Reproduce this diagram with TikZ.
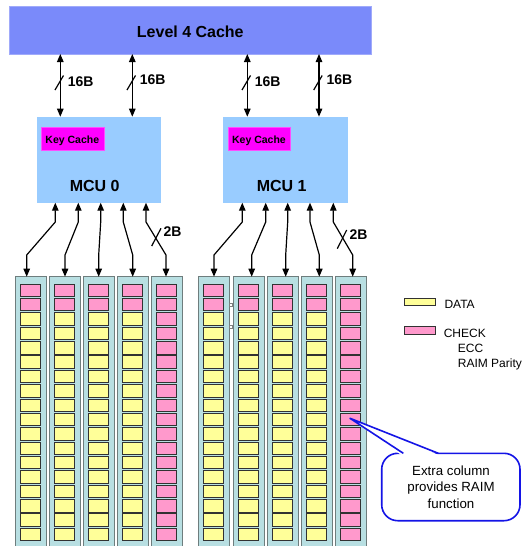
\documentclass[tikz,border=0pt]{standalone}
\usepackage{fontspec}
\setmainfont{Liberation Sans}
\usetikzlibrary{arrows.meta}
\definecolor{lfour}{RGB}{122,138,250}
\definecolor{lfourb}{RGB}{160,170,250}
\definecolor{mcu}{RGB}{153,204,255}
\definecolor{keyc}{RGB}{255,0,255}
\definecolor{colf}{RGB}{184,223,226}
\definecolor{colb}{RGB}{110,125,125}
\definecolor{chk}{RGB}{255,153,204}
\definecolor{dat}{RGB}{255,255,153}
\definecolor{cellb}{RGB}{50,50,50}
\definecolor{callb}{RGB}{20,20,230}
\tikzset{
  box/.style={inner sep=0pt, outer sep=0pt, anchor=north west},
  colbox/.style={box, draw=colb, fill=colf, line width=1.2pt, minimum width=31pt, minimum height=280pt},
  cellbox/.style={draw=cellb, line width=0.9pt},
  biarr/.style={line width=1.2pt, {Triangle[length=8pt,width=6.5pt]}-{Triangle[length=8pt,width=6.5pt]}},
  slash/.style={line width=1.2pt},
  bw/.style={font=\fontsize{14}{16}\bfseries\selectfont, inner sep=0pt, anchor=base west},
  leg/.style={font=\fontsize{12}{14}\selectfont, inner sep=0pt, anchor=base west},
}
\begin{document}
\begin{tikzpicture}[x=1pt,y=-1pt]
\clip (0,0) rectangle (523,546);
\fill[white] (0,0) rectangle (523,546);

% Level 4 cache
\node[box, draw=lfourb, fill=lfour, minimum width=361.7pt, minimum height=48pt] (l4) at (9.3,6) {};
\node[font=\fontsize{16}{19}\bfseries\selectfont, inner sep=0pt, anchor=base] (l4t) at (190.3,37.3) {Level 4 Cache};

% MCUs
\node[box, fill=mcu, minimum width=124.3pt, minimum height=86pt] (mcu0) at (36.7,116.7) {};
\node[box, fill=mcu, minimum width=124.4pt, minimum height=86pt] (mcu1) at (223.3,116.7) {};
\node[box, fill=keyc, draw=keyc!70!white, minimum width=62.7pt, minimum height=23.3pt] (kc0) at (41,126.7) {};
\node[box, fill=keyc, draw=keyc!70!white, minimum width=62pt, minimum height=23.3pt] (kc1) at (228,126.7) {};
\node[font=\fontsize{10.5}{12}\bfseries\selectfont, inner sep=0pt, anchor=base] (kct0) at (72.3,143) {Key Cache};
\node[font=\fontsize{10.5}{12}\bfseries\selectfont, inner sep=0pt, anchor=base] (kct1) at (259,143) {Key Cache};
\node[font=\fontsize{16}{19}\bfseries\selectfont, inner sep=0pt, anchor=base] (m0t) at (94.7,191.2) {MCU 0};
\node[font=\fontsize{16}{19}\bfseries\selectfont, inner sep=0pt, anchor=base] (m1t) at (281.7,191.2) {MCU 1};

% 16B links
\foreach \x/\m/\b in {60.3/mcu0/86, 132.3/mcu0/84.3, 247.3/mcu1/86.5, 319/mcu1/84.3}{
  \draw[biarr] (l4.south -| \x,0) -- (\m.north -| \x,0);
  \draw[slash] (\x-5.3,90) -- (\x+3.2,75.5);
  \node[bw] at (\x+7.4,\b) {16B};
}

% DIMM columns
\foreach \c [count=\i] in {15.3,49.3,83.3,117.3,151.3}{
  \node[colbox] (A\i) at (\c,276.7) {};
  \foreach \r in {0,...,17}{
    \ifnum\i=5 \def\cc{chk}\else\ifnum\r<2 \def\cc{chk}\else\def\cc{dat}\fi\fi
    \draw[cellbox, fill=\cc] (\c+5,284+\r*14.37) rectangle ++(20,12.5);
  }
}
\foreach \c [count=\i] in {198.8,233.3,267.3,301.3,335.3}{
  \node[colbox] (B\i) at (\c,276.7) {};
  \foreach \r in {0,...,17}{
    \ifnum\i=5 \def\cc{chk}\else\ifnum\r<2 \def\cc{chk}\else\def\cc{dat}\fi\fi
    \draw[cellbox, fill=\cc] (\c+5,284+\r*14.37) rectangle ++(20,12.5);
  }
}
\draw[gray, fill=white, line width=0.5pt] (229.6,303) rectangle ++(2.6,2.8);
\draw[gray, fill=white, line width=0.5pt] (229.6,325.4) rectangle ++(2.6,2.8);

% MCU to column links
\foreach \xa/\xb/\n in {55.3/26.7/A1, 78.3/65/A2, 100.7/98.7/A3, 123.3/132.7/A4, 146/166/A5}{
  \draw[biarr] (mcu0.south -| \xa,0) -- (\xa,222) -- (\xb,255) -- (\n.north -| \xb,0);
}
\foreach \xa/\xb/\n in {242.3/214/B1, 265.7/251.7/B2, 287.7/285.7/B3, 310/319.3/B4, 333.3/352.7/B5}{
  \draw[biarr] (mcu1.south -| \xa,0) -- (\xa,222) -- (\xb,255) -- (\n.north -| \xb,0);
}
\draw[slash] (151.7,246) -- (161,228.3);
\node[bw] at (163.3,236.7) {2B};
\draw[slash] (337.3,248.7) -- (346.7,230);
\node[bw] at (349.3,239) {2B};

% Legend
\draw[cellbox, fill=dat] (404.3,298.3) rectangle (435,305.7);
\draw[cellbox, fill=chk] (404.3,326.7) rectangle (435,334);
\node[leg] (ld) at (444.3,308.3) {DATA};
\node[leg] (lc) at (443.6,337.6) {CHECK};
\node[leg] (le) at (457.7,352.6) {ECC};
\node[leg] (lr) at (457.7,367.6) {RAIM Parity};

% Callout
\draw[callb, fill=white, line width=1.6pt, rounded corners=16pt] (381.7,453.3) rectangle (520,520.7);
\fill[white] (402,455.5) -- (350,418.3) -- (440,455.5) -- cycle;
\draw[callb, line width=1.6pt, line join=round] (403.3,453.3) -- (350,418.3) -- (438.3,453.3);
\node[align=center, font=\fontsize{13.3}{16.3}\selectfont, inner sep=0pt] (co) at (451,487) {Extra column\\provides RAIM\\function};
\end{tikzpicture}
\end{document}
